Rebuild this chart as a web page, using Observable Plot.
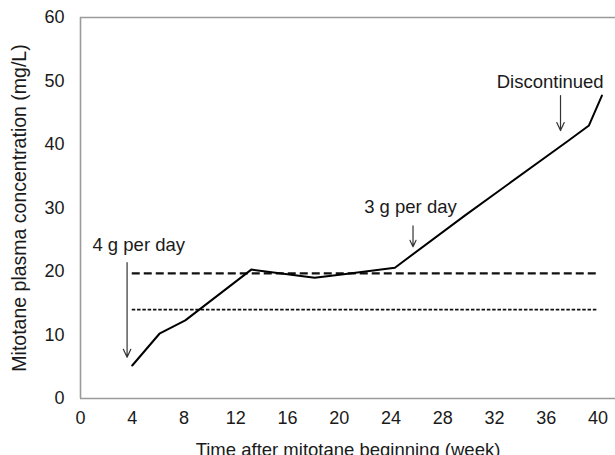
<!DOCTYPE html>
<html>
<head>
<meta charset="utf-8">
<script src="https://cdn.jsdelivr.net/npm/d3@7"></script>
<script src="https://cdn.jsdelivr.net/npm/@observablehq/plot@0.6"></script>
<style>
  html, body { margin: 0; padding: 0; background: #fff; }
  svg { display: block; }
</style>
</head>
<body>
<div id="chart"></div>
<script>
// Mitotane plasma concentration over time
const weeks = [4, 6.1, 8.1, 13.2, 18.1, 20.5, 24.3, 29.7, 37.7, 39.3, 40.3];
const concentration = [5.2, 10.2, 12.3, 20.3, 19.0, 19.6, 20.6, 28.8, 40.6, 43.0, 47.7];

// Reference levels (horizontal lines)
const levelStart = 4;
const levelEnd = 40;
const upperLevel = 19.7;   // dashed
const lowerLevel = 14.0;   // dotted

// Annotations
const noteLabels = ["4 g per day", "3 g per day", "Discontinued"];
const noteTextX = [4.5, 25.5, 36.3];
const noteTextY = [24.1, 30.1, 49.8];
const arrowX = [3.6, 25.7, 37.1];
const arrowYFrom = [21.4, 27.2, 47.7];
const arrowYTo = [6.5, 23.9, 42.2];

const xTicks = [0, 4, 8, 12, 16, 20, 24, 28, 32, 36, 40];
const yTicks = [0, 10, 20, 30, 40, 50, 60];

const series = weeks.map((w, i) => ({week: w, conc: concentration[i]}));
const notes = noteLabels.map((t, i) => ({
  text: t, tx: noteTextX[i], ty: noteTextY[i],
  ax: arrowX[i], y1: arrowYFrom[i], y2: arrowYTo[i]
}));

const axisColor = "#9a9a9a";
const textColor = "#1a1a1a";

const chart = Plot.plot({
  width: 615,
  height: 455,
  marginLeft: 80,
  marginRight: 0,
  marginTop: 17,
  marginBottom: 57,
  style: {fontFamily: "Liberation Sans, Arial, sans-serif", color: textColor, background: "#fff"},
  x: {domain: [0, 41.35], ticks: xTicks, tickFormat: d => d},
  y: {domain: [0, 60], ticks: yTicks},
  marks: [
    Plot.ruleY([0, 60], {stroke: axisColor, strokeWidth: 1.6}),
    Plot.ruleX([0], {stroke: axisColor, strokeWidth: 1.6}),
    Plot.axisX({
      ticks: xTicks, tickSize: 0, tickPadding: 13, fontSize: 18, fill: textColor,
      label: "Time after mitotane beginning (week)", labelAnchor: "center",
      labelArrow: "none", labelOffset: 57
    }),
    Plot.axisY({
      ticks: yTicks, tickSize: 0, tickPadding: 16, fontSize: 18, fill: textColor,
      label: "Mitotane plasma concentration (mg/L)", labelAnchor: "center",
      labelArrow: "none", labelOffset: 68
    }),
    Plot.ruleY([upperLevel], {x1: levelStart, x2: levelEnd, stroke: "#111", strokeWidth: 2.2, strokeDasharray: "8,4"}),
    Plot.ruleY([lowerLevel], {x1: levelStart, x2: levelEnd, stroke: "#111", strokeWidth: 1.6, strokeDasharray: "3.5,1.8"}),
    Plot.line(series, {x: "week", y: "conc", stroke: "#000", strokeWidth: 2}),
    Plot.arrow(notes, {x1: "ax", x2: "ax", y1: "y1", y2: "y2", stroke: "#333", strokeWidth: 1.2, headLength: 11, headAngle: 50}),
    Plot.text(notes, {x: "tx", y: "ty", text: "text", fontSize: 18.5, fill: textColor})
  ]
});
// Axis title sizes (x title and rotated y title)
chart.querySelectorAll("g[aria-label='x-axis label'] text").forEach(t => t.setAttribute("font-size", "18.5"));
chart.querySelectorAll("g[aria-label='y-axis label'] text").forEach(t => t.setAttribute("font-size", "19.5"));
document.getElementById("chart").appendChild(chart);
</script>
</body>
</html>
